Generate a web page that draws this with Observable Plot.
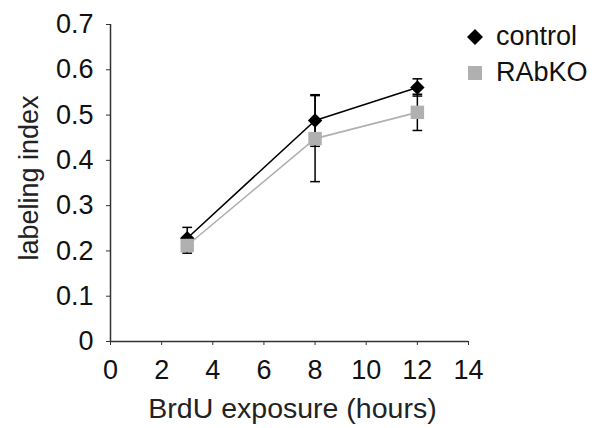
<!DOCTYPE html>
<html>
<head>
<meta charset="utf-8">
<script src="https://cdn.jsdelivr.net/npm/d3@7"></script>
<script src="https://cdn.jsdelivr.net/npm/@observablehq/plot@0.6"></script>
<style>
  body { margin: 0; background: #fff; }
  #wrap { position: relative; width: 596px; height: 428px; font-family: "Liberation Sans", Arial, sans-serif; }
  .leg { position: absolute; left: 466px; display: flex; align-items: center; font-size: 27px; color: #111; line-height: 1; }
  .leg svg { margin-right: 12px; }
</style>
</head>
<body>
<div id="wrap"></div>
<script>
const hours = [3, 8, 12];
const controlValues = [0.228, 0.488, 0.561];
const controlErr = [0.024, 0.057, 0.019];
const rabkoValues = [0.212, 0.448, 0.506];
const rabkoErr = [0.017, 0.095, 0.04];
const xTicks = [0, 2, 4, 6, 8, 10, 12, 14];
const yTicks = [0, 0.1, 0.2, 0.3, 0.4, 0.5, 0.6, 0.7];
const seriesNames = ["control", "RAbKO"];
const seriesColors = ["#000000", "#b0b0b0"];

const control = hours.map((h, i) => ({x: h, y: controlValues[i], e: controlErr[i]}));
const rabko = hours.map((h, i) => ({x: h, y: rabkoValues[i], e: rabkoErr[i]}));
const all = control.concat(rabko);
const caps = all.flatMap(d => [{x: d.x, y: d.y + d.e}, {x: d.x, y: d.y - d.e}]);

const capSymbol = {
  draw(ctx, size) {
    const w = Math.sqrt(size) / 2;
    ctx.moveTo(-w, 0);
    ctx.lineTo(w, 0);
  }
};

const chart = Plot.plot({
  width: 596,
  height: 428,
  marginLeft: 110,
  marginRight: 128,
  marginTop: 24,
  marginBottom: 87,
  style: {fontFamily: "'Liberation Sans', Arial, sans-serif", fontSize: "27px", color: "#111", background: "#fff"},
  x: {domain: [0, 14]},
  y: {domain: [0, 0.7]},
  marks: [
    Plot.axisY({ticks: yTicks, tickSize: 4, tickPadding: 13, tickFormat: d => d === 0 ? "0" : d3.format(".1f")(d), label: null, fontSize: 27, stroke: "#333"}),
    Plot.axisX({ticks: xTicks, tickSize: 4, tickPadding: 14, tickFormat: d => String(d), label: null, fontSize: 27, stroke: "#333"}),
    Plot.ruleY([0], {stroke: "#333", strokeWidth: 1.5}),
    Plot.ruleX([0], {stroke: "#333", strokeWidth: 1.5}),
    Plot.line(control, {x: "x", y: "y", stroke: seriesColors[0], strokeWidth: 1.6}),
    Plot.line(rabko, {x: "x", y: "y", stroke: seriesColors[1], strokeWidth: 1.6}),
    Plot.ruleX(all, {x: "x", y1: d => d.y - d.e, y2: d => d.y + d.e, stroke: "#000", strokeWidth: 1.5}),
    Plot.dot(caps, {x: "x", y: "y", symbol: capSymbol, r: 5.5, stroke: "#000", strokeWidth: 1.5, fill: "none"}),
    Plot.dot(control, {x: "x", y: "y", symbol: "diamond2", r: 6.5, fill: seriesColors[0], stroke: "none"}),
    Plot.dot(rabko, {x: "x", y: "y", symbol: "square", r: 7.6, fill: seriesColors[1], stroke: "none"}),
    Plot.text(["BrdU exposure (hours)"], {frameAnchor: "bottom", dy: 76, dx: 3, fontSize: 28.5, fill: "#222"}),
    Plot.text(["labeling index"], {frameAnchor: "left", textAnchor: "middle", rotate: -90, dx: -81, dy: -5, fontSize: 27, fill: "#222"})
  ]
});

const wrap = document.getElementById("wrap");
wrap.appendChild(chart);

const symbols = [
  '<svg width="18" height="18" viewBox="-9 -9 18 18"><path d="M0,-8L8,0L0,8L-8,0Z" fill="#000"/></svg>',
  '<svg width="18" height="18" viewBox="-9 -9 18 18"><rect x="-7" y="-7" width="14" height="14" fill="#b0b0b0"/></svg>'
];
const tops = [23, 59];
seriesNames.forEach((name, i) => {
  const div = document.createElement("div");
  div.className = "leg";
  div.style.top = tops[i] + "px";
  div.innerHTML = symbols[i] + "<span>" + name + "</span>";
  wrap.appendChild(div);
});
</script>
</body>
</html>
